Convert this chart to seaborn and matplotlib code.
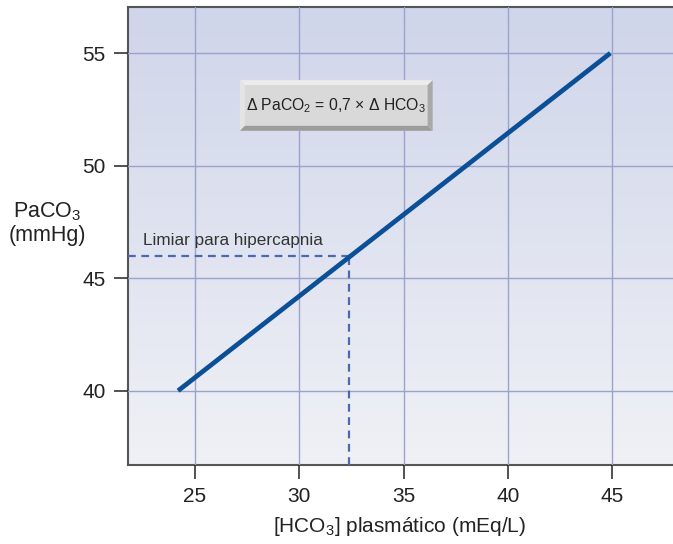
import numpy as np
import pandas as pd
import matplotlib
matplotlib.use("Agg")
import matplotlib.pyplot as plt
from matplotlib.colors import LinearSegmentedColormap
from matplotlib.patches import Polygon, Rectangle
import seaborn as sns

# Compensation line: plasma bicarbonate vs arterial PaCO2
hco3 = [24.2, 44.9]
paco2 = [40, 55]

# Hypercapnia threshold
threshold_paco2 = 46
threshold_hco3 = 32.4

x_ticks = [25, 30, 35, 40, 45]
y_ticks = [40, 45, 50, 55]

sns.set_theme(style="white")
plt.rcParams["font.family"] = ["Liberation Sans", "DejaVu Sans"]
plt.rcParams["mathtext.fontset"] = "custom"
plt.rcParams["mathtext.rm"] = "Liberation Sans"
plt.rcParams["mathtext.default"] = "regular"

fig = plt.figure(figsize=(6.73, 5.44), dpi=100)
ax = fig.add_axes([128 / 673, 1 - 465 / 544, 1 - 128 / 673, (465 - 7) / 544])

xmin, xmax = 21.8, 47.9
ymin, ymax = 36.7, 57.05

# Background gradient, pale at the bottom, bluish at the top
grad = np.linspace(0, 1, 256).reshape(-1, 1)
cmap = LinearSegmentedColormap.from_list("bg", ["#f0f1f6", "#cfd5ea"])
ax.imshow(grad, cmap=cmap, aspect="auto", extent=[xmin, xmax, ymin, ymax],
          origin="lower", zorder=0)

ax.set_xlim(xmin, xmax)
ax.set_ylim(ymin, ymax)
ax.set_xticks(x_ticks)
ax.set_yticks(y_ticks)
ax.grid(True, color="#9aa3cc", linewidth=1.0, zorder=1)
ax.set_axisbelow(False)

df = pd.DataFrame({"HCO3": hco3, "PaCO2": paco2})
sns.lineplot(data=df, x="HCO3", y="PaCO2", ax=ax, color="#0b4f97",
             linewidth=3.4, solid_capstyle="butt", zorder=4)

ax.plot([xmin, threshold_hco3], [threshold_paco2, threshold_paco2],
        linestyle=(0, (3.5, 2.5)), color="#4a6aae", linewidth=1.6, zorder=3)
ax.plot([threshold_hco3, threshold_hco3], [ymin, threshold_paco2],
        linestyle=(0, (3.5, 2.5)), color="#4a6aae", linewidth=1.6, zorder=3)

ax.text(22.5, 46.68, "Limiar para hipercapnia", fontsize=12.3, color="#333333",
        va="center", ha="left", zorder=5)

# Bevelled formula box
bx0, bx1, by0, by1 = 27.16, 36.39, 51.55, 53.8
bw, bh = 0.24, 0.22
ax.add_patch(Rectangle((bx0, by0), bx1 - bx0, by1 - by0, facecolor="#d9d9d9",
                       edgecolor="none", zorder=6))
ax.add_patch(Polygon([(bx0, by1), (bx1, by1), (bx1 - bw, by1 - bh), (bx0 + bw, by1 - bh)],
                     closed=True, facecolor="#ececec", edgecolor="none", zorder=6))
ax.add_patch(Polygon([(bx0, by0), (bx0, by1), (bx0 + bw, by1 - bh), (bx0 + bw, by0 + bh)],
                     closed=True, facecolor="#e4e4e4", edgecolor="none", zorder=6))
ax.add_patch(Polygon([(bx1, by0), (bx1, by1), (bx1 - bw, by1 - bh), (bx1 - bw, by0 + bh)],
                     closed=True, facecolor="#a9a9a9", edgecolor="none", zorder=6))
ax.add_patch(Polygon([(bx0, by0), (bx1, by0), (bx1 - bw, by0 + bh), (bx0 + bw, by0 + bh)],
                     closed=True, facecolor="#9c9c9c", edgecolor="none", zorder=6))
ax.text((bx0 + bx1) / 2, (by0 + by1) / 2,
        "\u0394 PaCO$_2$ = 0,7 \u00d7 \u0394 HCO$_3$",
        fontsize=11.3, color="#222222", ha="center", va="center", zorder=7)

for side in ["left", "bottom", "top"]:
    ax.spines[side].set_visible(True)
    ax.spines[side].set_color("#555555")
    ax.spines[side].set_linewidth(1.5)
ax.spines["right"].set_visible(False)

ax.tick_params(axis="both", which="major", direction="out", length=10,
               width=1.2, color="#333333", labelsize=15, labelcolor="#222222",
               bottom=True, left=True, pad=6)

ax.set_xlabel("")
ax.set_ylabel("")
fig.text(400 / 673, 1 - 527 / 544, "[HCO$_3$] plasmático (mEq/L)",
         fontsize=15, color="#222222", ha="center", va="center")
fig.text(47 / 673, 1 - 223 / 544, "PaCO$_3$\n(mmHg)", fontsize=15.5,
         color="#222222", ha="center", va="center", linespacing=1.1)

fig.savefig("out.png", dpi=100)
